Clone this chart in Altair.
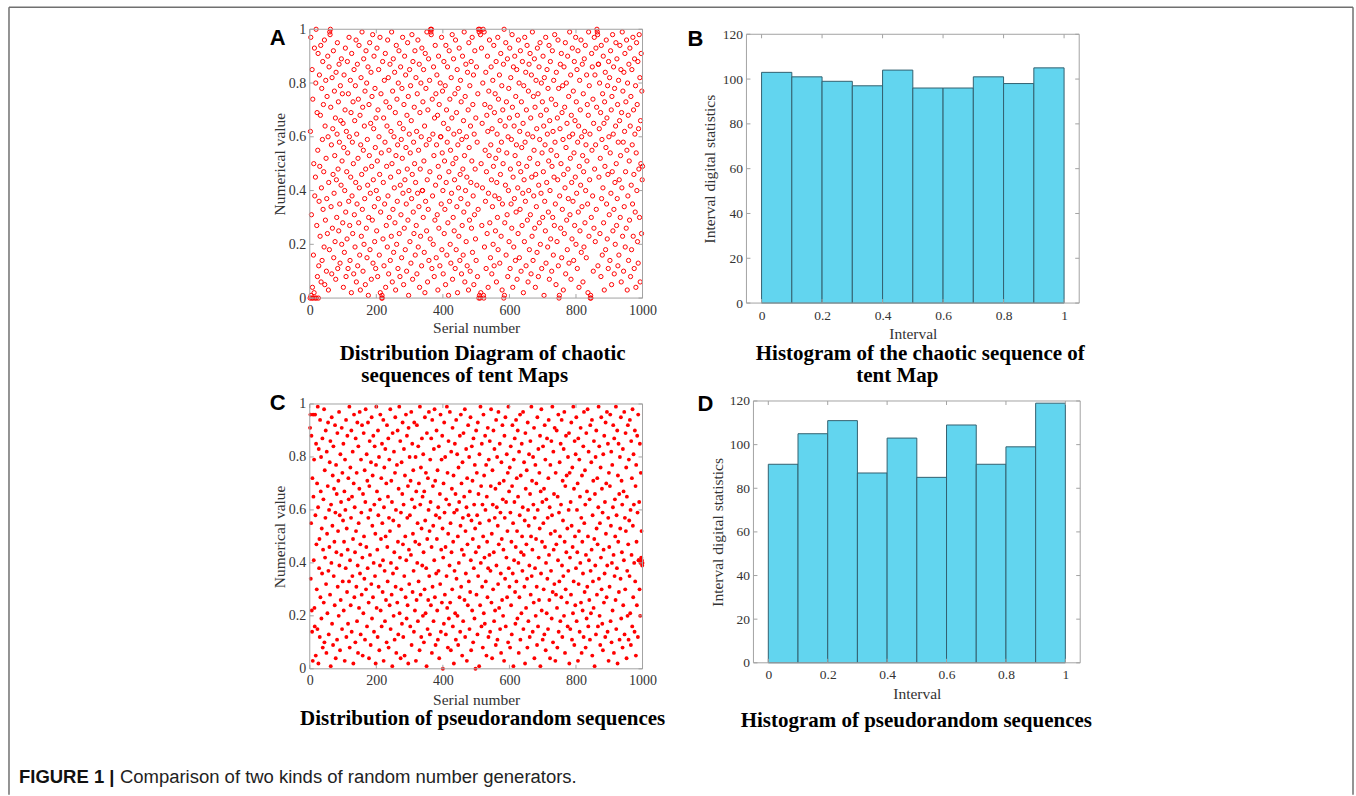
import altair as alt
import pandas as pd

# ---------------- data (values read/estimated from the figure) ----------------
# Panel A: tent-map chaotic sequence, value x 100, serial numbers 1..1000
A_TENT_X100 = [
    0, 62, 97, 1, 31, 0, 85, 4, 74, 0, 16, 50, 2, 93, 38, 0, 45, 80, 100, 0,
    27, 69, 8, 55, 91, 0, 12, 36, 83, 49, 23, 68, 94, 6, 41, 78, 14, 59, 88, 33,
    72, 47, 19, 96, 5, 64, 29, 81, 52, 10, 37, 75, 24, 90, 60, 3, 43, 86, 18, 99,
    98, 100, 71, 34, 57, 9, 82, 26, 63, 46, 92, 15, 39, 77, 53, 21, 67, 7, 84, 44,
    30, 61, 95, 11, 48, 73, 25, 87, 58, 35, 13, 79, 66, 42, 89, 20, 51, 76, 28, 65,
    4, 56, 83, 17, 40, 70, 93, 32, 8, 62, 47, 22, 88, 54, 11, 76, 36, 97, 60, 27,
    14, 81, 45, 69, 2, 91, 38, 58, 24, 73, 50, 9, 85, 31, 66, 19, 79, 43, 96, 6,
    61, 35, 87, 12, 52, 74, 28, 94, 41, 16, 68, 3, 57, 82, 23, 46, 99, 33, 71, 10,
    55, 89, 20, 64, 37, 77, 5, 48, 92, 26, 80, 15, 59, 42, 86, 1, 30, 72, 53, 95,
    18, 39, 65, 84, 7, 49, 75, 29, 98, 13, 44, 63, 90, 34, 21, 78, 56, 11, 67, 40,
    25, 93, 51, 8, 70, 37, 85, 60, 16, 46, 97, 2, 32, 76, 54, 0, 1, 0, 88, 22,
    43, 67, 12, 81, 35, 58, 91, 4, 73, 27, 49, 64, 19, 96, 38, 82, 9, 55, 30, 71,
    87, 14, 45, 62, 23, 99, 50, 6, 77, 33, 89, 17, 60, 41, 84, 28, 69, 3, 53, 94,
    20, 74, 36, 57, 11, 80, 47, 92, 24, 65, 8, 42, 86, 31, 59, 15, 78, 52, 97, 39,
    63, 5, 72, 26, 90, 44, 18, 83, 56, 35, 10, 68, 48, 95, 29, 75, 1, 40, 61, 85,
    21, 54, 79, 13, 66, 37, 98, 46, 7, 88, 32, 58, 24, 71, 50, 92, 16, 43, 82, 27,
    62, 9, 76, 39, 96, 19, 55, 34, 87, 4, 69, 48, 23, 80, 60, 12, 93, 40, 40, 73,
    30, 85, 51, 17, 64, 2, 91, 36, 78, 57, 25, 99, 44, 6, 70, 33, 89, 14, 59, 81,
    47, 22, 100, 99, 98, 100, 11, 74, 38, 61, 20, 86, 53, 8, 67, 29, 94, 42, 76, 15,
    57, 83, 31, 68, 3, 49, 90, 26, 72, 45, 12, 80, 60, 60, 35, 97, 18, 54, 77, 40,
    9, 65, 88, 24, 51, 33, 79, 5, 94, 43, 70, 16, 58, 86, 28, 63, 1, 47, 92, 36,
    74, 20, 55, 13, 82, 39, 67, 98, 7, 50, 30, 89, 61, 25, 44, 76, 11, 96, 52, 18,
    69, 34, 85, 2, 57, 78, 41, 23, 93, 62, 14, 46, 81, 37, 73, 9, 59, 27, 90, 48,
    16, 66, 32, 99, 53, 6, 75, 40, 87, 21, 60, 45, 12, 84, 35, 70, 3, 95, 56, 29,
    79, 10, 64, 43, 88, 26, 51, 97, 17, 72, 38, 83, 5, 61, 31, 92, 48, 22, 67, 14,
    86, 42, 58, 8, 76, 33, 100, 0, 99, 1, 100, 0, 98, 2, 50, 93, 27, 65, 41, 80,
    100, 1, 0, 99, 19, 72, 55, 36, 84, 11, 47, 68, 24, 90, 62, 4, 39, 77, 53, 96,
    28, 71, 15, 57, 86, 44, 9, 63, 34, 81, 20, 49, 94, 12, 69, 38, 76, 25, 52, 88,
    6, 43, 61, 30, 97, 18, 74, 55, 37, 83, 13, 66, 46, 91, 23, 58, 79, 3, 35, 70,
    50, 87, 0, 100, 1, 28, 64, 42, 95, 16, 73, 54, 31, 89, 8, 60, 40, 78, 21, 67,
    93, 11, 48, 82, 35, 59, 26, 98, 71, 4, 45, 86, 19, 64, 37, 90, 53, 14, 75, 32,
    57, 85, 7, 68, 41, 24, 96, 50, 80, 15, 62, 33, 92, 47, 10, 73, 56, 27, 88, 39,
    65, 2, 79, 44, 21, 97, 58, 36, 84, 12, 70, 49, 94, 29, 61, 6, 77, 40, 87, 18,
    52, 91, 31, 67, 9, 83, 45, 23, 99, 60, 14, 75, 38, 55, 89, 26, 71, 4, 46, 81,
    34, 63, 17, 93, 50, 76, 8, 42, 86, 28, 59, 95, 20, 68, 39, 80, 11, 54, 73, 30,
    90, 47, 64, 1, 82, 36, 57, 25, 97, 13, 70, 43, 85, 61, 19, 78, 32, 51, 94, 7,
    66, 40, 88, 22, 55, 74, 10, 49, 92, 30, 62, 16, 81, 45, 27, 98, 58, 35, 72, 5,
    84, 53, 21, 67, 44, 96, 12, 78, 0, 1, 38, 63, 87, 26, 50, 91, 15, 69, 33, 79,
    59, 3, 46, 86, 24, 71, 41, 95, 9, 56, 80, 29, 65, 18, 90, 48, 37, 75, 13, 60,
    99, 31, 52, 83, 7, 68, 43, 22, 93, 61, 36, 77, 14, 54, 88, 27, 66, 45, 97, 20,
    73, 39, 85, 11, 58, 92, 32, 64, 4, 49, 81, 25, 70, 42, 96, 17, 60, 34, 87, 53,
    6, 76, 47, 19, 89, 62, 28, 94, 40, 57, 15, 83, 51, 72, 35, 2, 68, 99, 23, 79,
    44, 61, 0, 1, 0, 30, 91, 55, 86, 38, 74, 10, 65, 26, 97, 48, 83, 21, 57, 93,
    33, 71, 100, 99, 98, 12, 87, 87, 45, 63, 80, 24, 52, 69, 8, 94, 37, 59, 16, 76,
    41, 90, 28, 65, 3, 73, 49, 84, 18, 56, 96, 35, 67, 22, 79, 46, 11, 88, 60, 31,
    82, 14, 54, 92, 39, 70, 5, 75, 47, 98, 25, 61, 86, 33, 9, 78, 43, 20, 64, 95,
    50, 27, 89, 37, 72, 12, 58, 81, 16, 44, 66, 94, 30, 53, 85, 6, 69, 41, 99, 23,
    77, 58, 10, 84, 34, 62, 91, 19, 47, 73, 26, 96, 55, 3, 80, 38, 68, 14, 87, 51,
    29, 93, 64, 8, 75, 42, 18, 85, 57, 35, 97, 23, 70, 46, 11, 89, 61, 32, 79, 4,
    54, 95, 40, 72, 21, 88, 13, 63, 48, 98, 30, 82, 6, 66, 50, 91, 24, 77, 44, 49,
]

# Panel C: pseudorandom sequence, value x 100, serial numbers 1..1000
C_PSEUDO_X100 = [
    91, 96, 34, 55, 88, 22, 14, 72, 3, 96, 65, 41, 79, 23, 16, 96, 58, 5, 85, 47,
    30, 70, 15, 99, 61, 2, 83, 38, 49, 12, 94, 27, 67, 80, 19, 53, 36, 87, 8, 45,
    64, 25, 98, 10, 75, 42, 57, 90, 32, 6, 82, 51, 21, 69, 93, 37, 13, 60, 46, 78,
    28, 86, 1, 62, 40, 95, 17, 54, 73, 9, 84, 35, 68, 48, 24, 92, 59, 4, 77, 44,
    66, 11, 89, 31, 52, 71, 20, 97, 39, 58, 7, 81, 26, 63, 43, 91, 15, 74, 33, 56,
    85, 22, 48, 67, 3, 79, 60, 38, 94, 12, 53, 29, 88, 45, 17, 72, 64, 33, 99, 8,
    41, 76, 24, 57, 90, 14, 65, 35, 82, 49, 2, 70, 96, 27, 61, 44, 10, 87, 52, 31,
    74, 18, 93, 39, 6, 84, 55, 23, 68, 97, 36, 47, 13, 79, 59, 28, 92, 42, 5, 66,
    21, 89, 50, 34, 75, 11, 63, 98, 30, 46, 81, 16, 71, 38, 93, 57, 25, 4, 69, 86,
    43, 60, 9, 78, 32, 95, 19, 54, 73, 27, 88, 40, 14, 62, 84, 35, 51, 2, 77, 99,
    23, 67, 45, 12, 90, 58, 31, 80, 7, 64, 39, 96, 22, 49, 72, 16, 85, 55, 29, 41,
    94, 3, 61, 76, 37, 18, 83, 50, 26, 70, 10, 92, 46, 33, 65, 87, 8, 57, 79, 24,
    52, 98, 15, 40, 71, 28, 63, 1, 89, 36, 56, 20, 82, 44, 11, 74, 95, 31, 60, 6,
    38, 77, 25, 90, 48, 13, 68, 54, 99, 21, 42, 86, 4, 59, 30, 78, 17, 66, 93, 47,
    12, 62, 83, 35, 5, 73, 50, 27, 96, 41, 19, 88, 57, 24, 69, 2, 91, 45, 32, 80,
    58, 16, 71, 43, 97, 9, 64, 85, 29, 51, 75, 37, 14, 93, 61, 22, 48, 80, 3, 67,
    26, 92, 40, 55, 18, 84, 33, 70, 47, 7, 99, 62, 28, 76, 12, 53, 87, 39, 65, 20,
    81, 44, 10, 67, 30, 95, 56, 21, 74, 38, 1, 89, 49, 15, 72, 26, 60, 97, 35, 52,
    13, 79, 63, 24, 87, 46, 6, 94, 31, 69, 54, 18, 83, 41, 98, 27, 71, 9, 58, 36,
    90, 49, 22, 75, 11, 61, 37, 84, 4, 57, 66, 32, 96, 14, 45, 79, 25, 88, 53, 0,
    42, 70, 17, 93, 59, 28, 80, 46, 13, 64, 35, 99, 23, 74, 8, 51, 86, 19, 62, 39,
    97, 25, 55, 7, 82, 44, 68, 30, 91, 16, 48, 73, 2, 59, 37, 85, 21, 66, 11, 94,
    34, 60, 81, 20, 50, 9, 76, 40, 63, 27, 88, 14, 54, 96, 31, 70, 45, 5, 78, 57,
    18, 89, 43, 65, 26, 98, 12, 52, 36, 83, 61, 3, 72, 47, 24, 92, 58, 33, 80, 15,
    67, 29, 95, 41, 7, 56, 84, 22, 71, 49, 10, 87, 38, 62, 19, 77, 53, 0, 44, 90,
    28, 74, 58, 13, 93, 35, 66, 46, 1, 81, 55, 24, 99, 40, 69, 16, 85, 31, 62, 8,
    50, 96, 21, 73, 42, 17, 88, 60, 33, 77, 5, 65, 48, 27, 91, 38, 12, 79, 56, 43,
    86, 14, 37, 69, 98, 25, 51, 4, 75, 62, 30, 90, 44, 18, 83, 57, 22, 68, 9, 94,
    39, 61, 80, 11, 54, 32, 97, 47, 23, 70, 85, 15, 59, 36, 6, 78, 49, 26, 92, 64,
    20, 45, 71, 3, 88, 57, 34, 95, 16, 63, 42, 81, 27, 52, 74, 10, 99, 38, 67, 31,
    76, 8, 59, 84, 24, 48, 13, 69, 92, 36, 55, 1, 79, 41, 63, 87, 29, 17, 46, 94,
    33, 72, 52, 19, 90, 65, 40, 6, 82, 27, 58, 96, 11, 73, 44, 21, 85, 50, 37, 61,
    97, 15, 43, 78, 31, 56, 2, 89, 68, 23, 47, 75, 34, 8, 93, 60, 18, 54, 81, 39,
    12, 66, 86, 28, 50, 99, 35, 71, 45, 14, 80, 62, 25, 91, 4, 57, 38, 77, 20, 49,
    70, 31, 9, 95, 60, 16, 83, 42, 26, 74, 53, 88, 1, 67, 36, 98, 22, 48, 63, 11,
    84, 55, 30, 68, 13, 92, 46, 79, 7, 40, 64, 21, 87, 34, 57, 15, 72, 94, 43, 26,
    61, 4, 77, 51, 37, 86, 19, 58, 99, 29, 10, 82, 45, 66, 32, 91, 52, 3, 74, 28,
    47, 90, 23, 8, 65, 41, 96, 14, 59, 33, 78, 50, 18, 85, 62, 27, 94, 39, 12, 71,
    56, 35, 83, 20, 97, 48, 6, 69, 30, 88, 44, 73, 25, 53, 16, 80, 37, 60, 89, 2,
    74, 42, 15, 63, 28, 93, 54, 11, 76, 46, 21, 99, 33, 68, 9, 86, 50, 24, 81, 38,
    95, 18, 60, 44, 70, 3, 87, 32, 52, 79, 14, 65, 40, 91, 25, 57, 6, 73, 48, 22,
    36, 84, 12, 97, 55, 29, 75, 62, 8, 43, 89, 19, 67, 31, 98, 50, 16, 82, 41, 26,
    64, 11, 92, 37, 21, 78, 45, 94, 5, 58, 33, 71, 23, 86, 49, 1, 66, 39, 80, 13,
    90, 53, 28, 72, 47, 16, 61, 99, 34, 84, 20, 55, 9, 76, 42, 95, 30, 68, 17, 59,
    7, 81, 45, 25, 88, 36, 63, 12, 93, 51, 70, 27, 97, 39, 14, 85, 57, 3, 74, 46,
    31, 69, 96, 18, 54, 82, 10, 40, 77, 22, 61, 92, 43, 6, 87, 35, 64, 50, 26, 99,
    15, 58, 38, 90, 2, 73, 48, 85, 29, 66, 11, 80, 53, 34, 95, 19, 71, 44, 62, 8,
    83, 24, 67, 41, 97, 13, 57, 30, 89, 52, 76, 4, 65, 37, 20, 92, 47, 11, 79, 56,
    35, 94, 21, 60, 9, 86, 43, 72, 16, 98, 54, 27, 81, 62, 40, 14, 90, 33, 69, 5,
    77, 48, 24, 88, 59, 12, 96, 41, 41, 63, 30, 85, 20, 40, 74, 42, 52, 41, 39, 40,
]

# Histogram bins and counts
BIN_START = [0.0, 0.1, 0.2, 0.3, 0.4, 0.5, 0.6, 0.7, 0.8, 0.9]
BIN_END = [0.1, 0.2, 0.3, 0.4, 0.5, 0.6, 0.7, 0.8, 0.9, 1.0]
B_COUNTS = [103, 101, 99, 97, 104, 96, 96, 101, 98, 105]
D_COUNTS = [91, 105, 111, 87, 103, 85, 109, 91, 99, 119]

# Tick values
SCATTER_X_TICKS = [0, 200, 400, 600, 800, 1000]
SCATTER_Y_TICKS = [0, 0.2, 0.4, 0.6, 0.8, 1]
HIST_X_TICKS = [0, 0.2, 0.4, 0.6, 0.8, 1]
HIST_Y_TICKS = [0, 20, 40, 60, 80, 100, 120]

# Texts
A_TITLE = ["Distribution Diagram of chaotic", "sequences of tent Maps"]
B_TITLE = ["Histogram of the chaotic sequence of", "tent Map"]
C_TITLE = "Distribution of pseudorandom sequences"
D_TITLE = "Histogram of pseudorandom sequences"
CAPTION_BOLD = "FIGURE 1 |"
CAPTION_TEXT = "Comparison of two kinds of random number generators."

# ---------------- style ----------------
SERIF = "Liberation Serif"
SANS = "Liberation Sans"
BOX = "#a3a3a3"
LABEL = "#333333"
RED = "#ff0000"
BAR_FILL = "#62d5ef"
BAR_EDGE = "#33606f"
FRAME = "#707070"
NUM_FMT = "~r"

ONE = pd.DataFrame({"k": [0]})


def txt(s, x, y, size, weight="bold", font=SERIF, color="#000000", align="center"):
    return alt.Chart(ONE).mark_text(
        text=s, font=font, fontSize=size, fontWeight=weight, color=color,
        align=align, baseline="middle"
    ).encode(x=alt.value(x), y=alt.value(y))


def x_axis(values, title, title_x, title_y, label_size):
    return alt.Axis(
        values=values, format=NUM_FMT, title=title, grid=False, domain=False,
        ticks=False, tickSize=0, labelPadding=5, labelFont=SERIF,
        labelFontSize=label_size, labelColor=LABEL, labelFlush=False,
        labelOverlap=False, titleFont=SERIF, titleFontSize=15.5,
        titleFontWeight="normal", titleColor=LABEL, titleX=title_x,
        titleY=title_y, titleAlign="center", titleBaseline="alphabetic",
    )


def y_axis(values, title, title_x, title_y, label_size, offset=0):
    return alt.Axis(
        values=values, format=NUM_FMT, title=title, grid=False, domain=False,
        ticks=False, tickSize=0, labelPadding=4, labelFont=SERIF,
        labelFontSize=label_size, labelColor=LABEL, labelFlush=False,
        labelOverlap=False, titleFont=SERIF, titleFontSize=15.5,
        titleFontWeight="normal", titleColor=LABEL, titleX=title_x,
        titleY=title_y, titleAngle=270, titleAlign="center",
        titleBaseline="alphabetic", offset=offset,
    )


def box_and_ticks(xvals, yvals, xs, xa, ys, ya, x0, y0, x1, y1, L=4):
    """Inner (MATLAB-style) ticks on all four sides plus the axes box."""
    xd = pd.DataFrame({"t": xvals})
    yd = pd.DataFrame({"t": yvals})
    xr = alt.Chart(xd).mark_rule(color=BOX, strokeWidth=1)
    yr = alt.Chart(yd).mark_rule(color=BOX, strokeWidth=1)
    Xt = alt.X("t:Q", scale=xs, axis=xa)
    Yt = alt.Y("t:Q", scale=ys, axis=ya)
    box = alt.Chart(ONE).mark_rect(
        fillOpacity=0, stroke=BOX, strokeWidth=1
    ).encode(x=alt.value(x0), x2=alt.value(x1), y=alt.value(y0), y2=alt.value(y1))
    return [
        xr.encode(x=Xt, y=alt.value(y0), y2=alt.value(y0 + L)),
        xr.encode(x=Xt, y=alt.value(y1 - L), y2=alt.value(y1)),
        yr.encode(y=Yt, x=alt.value(x0), x2=alt.value(x0 + L)),
        yr.encode(y=Yt, x=alt.value(x1 - L), x2=alt.value(x1)),
        box,
    ]


# ---------------- panel A (view origin = plot origin) ----------------
WA, HA = 333, 269
sxA = alt.Scale(domain=[0, 1000], nice=False, zero=False)
syA = alt.Scale(domain=[0, 1], nice=False, zero=False)
axA = x_axis(SCATTER_X_TICKS, "Serial number", 166.5, 34, 14)
ayA = y_axis(SCATTER_Y_TICKS, "Numerical value", -25, 134.5, 14)
df_a = pd.DataFrame({"n": list(range(1, len(A_TENT_X100) + 1)),
                     "v": [v / 100 for v in A_TENT_X100]})
pts_a = alt.Chart(df_a).mark_point(
    shape="circle", filled=False, color=RED, size=18, strokeWidth=1, opacity=1
).encode(x=alt.X("n:Q", scale=sxA, axis=axA), y=alt.Y("v:Q", scale=syA, axis=ayA))
frame_style = dict(color=FRAME, strokeWidth=1.5)
frame = [
    alt.Chart(ONE).mark_rule(**frame_style).encode(
        x=alt.value(-301), y=alt.value(-22), y2=alt.value(766)),
    alt.Chart(ONE).mark_rule(**frame_style).encode(
        x=alt.value(1044), y=alt.value(-22), y2=alt.value(766)),
    alt.Chart(ONE).mark_rule(**frame_style).encode(
        y=alt.value(-22), x=alt.value(-301), x2=alt.value(1044)),
]
panel_a = alt.layer(
    pts_a,
    *box_and_ticks(SCATTER_X_TICKS, SCATTER_Y_TICKS, sxA, axA, syA, ayA, 0, 0, WA, HA),
    txt("A", -32, 9, 22, font=SANS),
    txt(A_TITLE[0], 173, 325, 21),
    txt(A_TITLE[1], 155, 347, 21),
    *frame,
).properties(width=WA, height=HA)

# ---------------- panel B (plot 5 px below view top) ----------------
WB, HB = 333, 274
sxB = alt.Scale(domain=[-0.05, 1.05], nice=False, zero=False)
syB = alt.Scale(domain=[0, 120], nice=False, zero=False, range=[274, 5])
axB = x_axis(HIST_X_TICKS, "Interval", 166.5, 35, 13.5)
ayB = y_axis(HIST_Y_TICKS, "Interval digital statistics", -32, 139.5, 13.5)
df_b = pd.DataFrame({"s": BIN_START, "e": BIN_END, "c": B_COUNTS})
bars_b = alt.Chart(df_b).mark_rect(
    fill=BAR_FILL, stroke=BAR_EDGE, strokeWidth=1, opacity=1
).encode(x=alt.X("s:Q", scale=sxB, axis=axB), x2="e:Q",
         y=alt.Y("c:Q", scale=syB, axis=ayB), y2=alt.datum(0))
panel_b = alt.layer(
    bars_b,
    *box_and_ticks(HIST_X_TICKS, HIST_Y_TICKS, sxB, axB, syB, ayB, 0, 5, WB, HB),
    txt("B", -51, 10, 22, font=SANS),
    txt(B_TITLE[0], 174, 325, 21),
    txt(B_TITLE[1], 151, 347, 21),
).properties(width=WB, height=HB)

# ---------------- panel C (plot 3 px below view top) ----------------
WC, HC = 333, 268
sxC = alt.Scale(domain=[0, 1000], nice=False, zero=False)
syC = alt.Scale(domain=[0, 1], nice=False, zero=False, range=[268, 3])
axC = x_axis(SCATTER_X_TICKS, "Serial number", 166.5, 36, 14)
ayC = y_axis(SCATTER_Y_TICKS, "Numerical value", -25, 135.5, 14)
df_c = pd.DataFrame({"n": list(range(1, len(C_PSEUDO_X100) + 1)),
                     "v": [v / 100 for v in C_PSEUDO_X100]})
pts_c = alt.Chart(df_c).mark_circle(color=RED, size=15, opacity=1).encode(
    x=alt.X("n:Q", scale=sxC, axis=axC), y=alt.Y("v:Q", scale=syC, axis=ayC))
panel_c = alt.layer(
    pts_c,
    *box_and_ticks(SCATTER_X_TICKS, SCATTER_Y_TICKS, sxC, axC, syC, ayC, 0, 3, WC, HC),
    txt("C", -32, 2.5, 22, font=SANS),
    txt(C_TITLE, 173, 318, 21),
    txt(CAPTION_BOLD, -291, 376, 18.5, font=SANS, align="left", color="#111111"),
    txt(CAPTION_TEXT, -190, 376, 18.5, weight="normal", font=SANS, align="left",
        color="#222222"),
).properties(width=WC, height=HC)

# ---------------- panel D (plot 7 px right of view left) ----------------
WD, HD = 334, 262
sxD = alt.Scale(domain=[-0.05, 1.05], nice=False, zero=False, range=[7, 334])
syD = alt.Scale(domain=[0, 120], nice=False, zero=False)
axD = x_axis(HIST_X_TICKS, "Interval", 170.5, 36, 13.5)
ayD = y_axis(HIST_Y_TICKS, "Interval digital statistics", -31, 131, 13.5, offset=-7)
df_d = pd.DataFrame({"s": BIN_START, "e": BIN_END, "c": D_COUNTS})
bars_d = alt.Chart(df_d).mark_rect(
    fill=BAR_FILL, stroke=BAR_EDGE, strokeWidth=1, opacity=1
).encode(x=alt.X("s:Q", scale=sxD, axis=axD), x2="e:Q",
         y=alt.Y("c:Q", scale=syD, axis=ayD), y2=alt.datum(0))
panel_d = alt.layer(
    bars_d,
    *box_and_ticks(HIST_X_TICKS, HIST_Y_TICKS, sxD, axD, syD, ayD, 7, 0, WD, HD),
    txt("D", -41, 3, 22, font=SANS),
    txt(D_TITLE, 170, 320, 21),
).properties(width=WD, height=HD)

chart = alt.concat(
    panel_a, panel_b, panel_c, panel_d,
    columns=2, spacing={"row": 98, "column": 104}, bounds="flush",
).properties(
    padding={"left": 7, "top": 5, "right": 1, "bottom": 0}
).configure(background="white").configure_view(stroke="transparent")

chart.save("out.html", embed_options={"renderer": "svg", "actions": False})
